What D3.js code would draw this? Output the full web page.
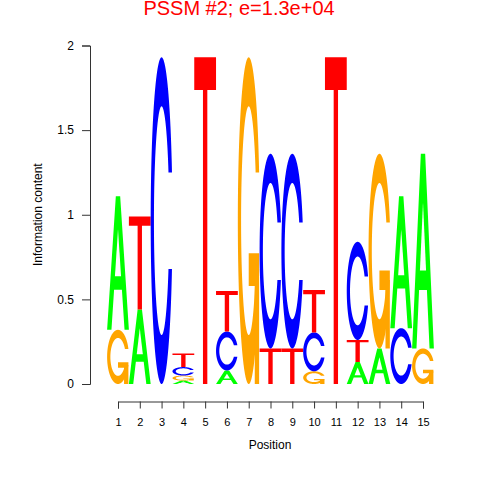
<!DOCTYPE html>
<html><head><meta charset="utf-8">
<script src="https://cdn.jsdelivr.net/npm/d3@7"></script>
<style>body{margin:0;background:#fff}svg{display:block}</style>
</head><body><svg id="c" width="480" height="480"></svg>
<script>
const positions = [1,2,3,4,5,6,7,8,9,10,11,12,13,14,15];
const letters = ["A","C","G","T"];
const valA = [0.79,0.44,0,0.02,0,0.08,0,0,0,0,0,0.13,0.21,0.78,1.15];
const valC = [0,0,1.93,0.05,0,0.23,0,1.15,1.15,0.23,0,0.58,0,0.33,0];
const valG = [0.32,0,0,0.03,0,0,1.93,0,0,0.075,0,0,1.15,0,0.21];
const valT = [0,0.55,0,0.08,1.93,0.24,0,0.21,0.21,0.25,1.93,0.13,0,0,0];
const yTicks = [0,0.5,1,1.5,2];
const colors = {A:"#00FF00", C:"#0000FF", G:"#FFA500", T:"#FF0000"};
const title = "PSSM #2; e=1.3e+04";

const svg = d3.select("#c");
const x = d3.scaleLinear().domain([1,15]).range([118,423]);
const y = d3.scaleLinear().domain([0,2]).range([384,45.5]);
const FONT = 'Arial, "Liberation Sans", sans-serif';

// glyph outlines in unit square (0..1), as in R seqLogo
function seq(a,b,n){const r=[];for(let i=0;i<n;i++)r.push(a+(b-a)*i/(n-1));return r;}
function ringShape(){
  const a1 = seq(0.3+Math.PI/2, Math.PI, 100), a2 = seq(Math.PI, 1.5*Math.PI, 100);
  const xl = a1.map(a=>0.5+0.5*Math.sin(a)).concat(a2.map(a=>0.5+0.5*Math.sin(a)));
  const yl1 = a1.map(a=>0.5+0.5*Math.cos(a));
  const yl = yl1.concat(a2.map(a=>0.5+0.5*Math.cos(a)));
  const xo = xl.concat(xl.slice().reverse());
  const yo = yl.concat(yl.slice().reverse().map(v=>1-v));
  const maxY = Math.max(...yl1);
  let xi1 = a1.map(a=>0.5+0.35*Math.sin(a)), yi1 = a1.map(a=>0.5+0.35*Math.cos(a));
  const keep = yi1.map(v=>v<=maxY);
  xi1 = xi1.filter((v,i)=>keep[i]); yi1 = yi1.filter((v,i)=>keep[i]);
  yi1[0] = maxY;
  const xi = xi1.concat(a2.map(a=>0.5+0.35*Math.sin(a)));
  const yi = yi1.concat(a2.map(a=>0.5+0.35*Math.cos(a)));
  const x1 = xi.concat(xi.slice().reverse());
  const y1 = yi.concat(yi.slice().reverse().map(v=>1-v));
  const X = xo.concat(x1.slice().reverse()), Y = yo.concat(y1.slice().reverse());
  return {pts: X.map((v,i)=>[v,Y[i]]), r1: Math.max(...a1.map(a=>0.5+0.5*Math.sin(a)))};
}
const ring = ringShape();
const r1 = ring.r1;
const glyphs = {
  A: [{pts:[[0,0],[0.4,1],[0.6,1],[1,0],[0.8,0],[0.68,0.3],[0.32,0.3],[0.2,0],[0,0]], white:false},
      {pts:[[0.36,0.4],[0.5,0.75],[0.64,0.4],[0.36,0.4]], white:true}],
  C: [{pts:ring.pts, white:false}],
  G: [{pts:ring.pts, white:false},
      {pts:[[r1,0.4],[0.5,0.4],[0.5,0.3],[r1-0.2,0.3],[r1-0.2,0],[r1,0],[r1,0.4]], white:false}],
  T: [{pts:[[0,1],[1,1],[1,0.9],[0.6,0.9],[0.6,0],[0.4,0],[0.4,0.9],[0,0.9]], white:false}]
};

const vals = {A:valA, C:valC, G:valG, T:valT};
const g = svg.append("g");
positions.forEach((p,i) => {
  const stack = letters.map(ch => ({ch, v:vals[ch][i]})).filter(d => d.v>0);
  stack.sort((a,b) => a.v-b.v);
  let base = 0;
  stack.forEach(d => {
    const b0 = base, h = d.v;
    const line = d3.line().x(q => x(p-0.5+q[0])).y(q => y(b0+h*q[1]));
    glyphs[d.ch].forEach(part => {
      g.append("path").attr("d", line(part.pts)+"Z")
        .attr("fill", part.white ? "#FFFFFF" : colors[d.ch]).attr("stroke","none");
    });
    base += d.v;
  });
});

const yAxis = d3.axisLeft(y).tickValues(yTicks).tickSize(8).tickPadding(8).tickFormat(d3.format("~g"));
const ya = svg.append("g").attr("transform","translate(90,0)").call(yAxis);
ya.selectAll("text").attr("font-size",12).attr("font-family",FONT).attr("fill","#000");
ya.selectAll("path,line").attr("stroke","#333");

const xAxis = d3.axisBottom(x).tickValues(positions).tickSize(7).tickPadding(10).tickFormat(d3.format("d"));
const xa = svg.append("g").attr("transform","translate(0,401.5)").call(xAxis);
xa.selectAll("text").attr("font-size",11).attr("font-family",FONT).attr("fill","#000");
xa.selectAll("path,line").attr("stroke","#333");

svg.append("text").attr("x",270).attr("y",449).attr("text-anchor","middle")
  .attr("font-family",FONT).attr("font-size",12).text("Position");
svg.append("text").attr("transform","translate(42,214.7) rotate(-90)").attr("text-anchor","middle")
  .attr("font-family",FONT).attr("font-size",12).text("Information content");
svg.append("text").attr("x",239).attr("y",15).attr("text-anchor","middle")
  .attr("font-family",FONT).attr("font-size",20).attr("fill","#FF0000").text(title);
</script></body></html>
